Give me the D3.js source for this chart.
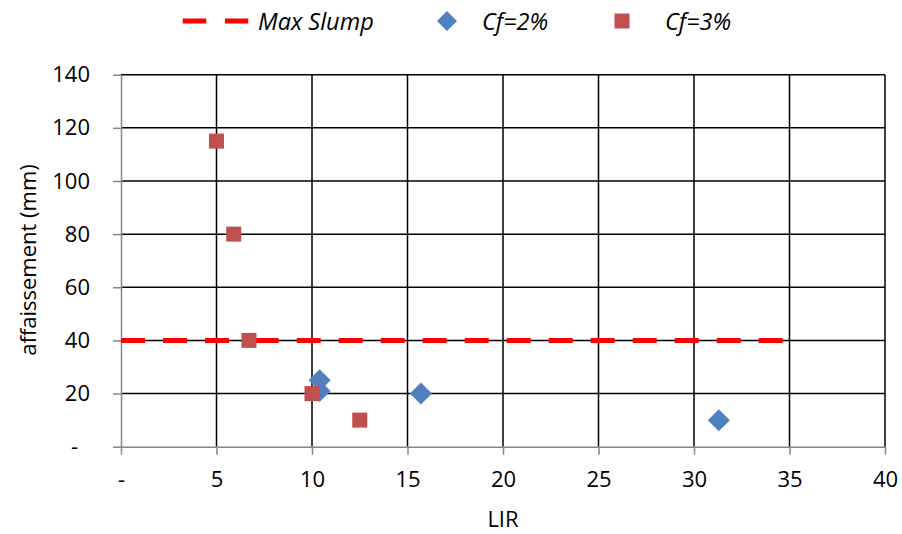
<!DOCTYPE html>
<html>
<head>
<meta charset="utf-8">
<script src="https://cdn.jsdelivr.net/npm/d3@7"></script>
<style>
  html, body { margin: 0; padding: 0; background: #fff; }
  svg { display: block; }
  text { font-family: "Open Sans", "Lato", sans-serif; fill: #000; }
</style>
</head>
<body>
<svg id="chart" width="902" height="534"></svg>
<script>
// ---- data ----
const maxSlumpX = [0, 7, 35];
const maxSlumpY = [40, 40, 40];
const cf2X = [10.4, 10.4, 15.7, 31.3];
const cf2Y = [25, 21, 20, 10];
const cf3X = [5.0, 5.9, 6.7, 10.0, 12.5];
const cf3Y = [115, 80, 40, 20, 10];
const xTicks = [0, 5, 10, 15, 20, 25, 30, 35, 40];
const yTicks = [0, 20, 40, 60, 80, 100, 120, 140];
const seriesNames = ["Max Slump", "Cf=2%", "Cf=3%"];
const xTitle = "LIR";
const yTitle = "affaissement (mm)";

const svg = d3.select("#chart");
const x = d3.scaleLinear().domain([0, 40]).range([121, 885]);
const y = d3.scaleLinear().domain([0, 140]).range([446.7, 74.7]);

const fmt = v => v === 0 ? "-" : d3.format(",")(v);
const gridColor = "#000";
const axisColor = "#868686";

// gridlines
const grid = svg.append("g");
grid.selectAll("line.h").data(yTicks.filter(d => d > 0)).join("line")
  .attr("x1", x(0)).attr("x2", x(40))
  .attr("y1", d => y(d)).attr("y2", d => y(d))
  .attr("stroke", gridColor).attr("stroke-width", 1.5);
grid.selectAll("line.v").data(xTicks.filter(d => d > 0)).join("line")
  .attr("y1", y(0)).attr("y2", y(140))
  .attr("x1", d => x(d)).attr("x2", d => x(d))
  .attr("stroke", gridColor).attr("stroke-width", 1.5);

// axes
const xAxis = svg.append("g").attr("transform", `translate(0,${y(0)})`)
  .call(d3.axisBottom(x).tickValues(xTicks).tickFormat(fmt).tickSize(8).tickPadding(17).tickSizeOuter(0));
const yAxis = svg.append("g").attr("transform", `translate(${x(0)},0)`)
  .call(d3.axisLeft(y).tickValues(yTicks).tickFormat(fmt).tickSize(8).tickPadding(23).tickSizeOuter(0));
[xAxis, yAxis].forEach(g => {
  g.select(".domain").attr("stroke", axisColor).attr("stroke-width", 1.5);
  g.selectAll(".tick line").attr("stroke", axisColor).attr("stroke-width", 1.5);
  g.selectAll(".tick text").style("font-size", "22px").attr("fill", "#000");
});
yAxis.selectAll(".tick text").filter(d => d === 0).attr("dx", -12);

// Max slump dashed line (pattern restarts at each vertex)
const lineGen = d3.line().x(d => x(d[0])).y(d => y(d[1]));
const pts = maxSlumpX.map((v, i) => [v, maxSlumpY[i]]);
for (let i = 0; i < pts.length - 1; i++) {
  svg.append("path").attr("d", lineGen([pts[i], pts[i + 1]]))
    .attr("fill", "none").attr("stroke", "#FF0000")
    .attr("stroke-width", 5).attr("stroke-dasharray", "24,18");
}

// markers
const diamond = (cx, cy, r) => `M${cx},${cy - r}L${cx + r},${cy}L${cx},${cy + r}L${cx - r},${cy}Z`;
svg.append("g").selectAll("path").data(cf2X.map((v, i) => [v, cf2Y[i]])).join("path")
  .attr("d", d => diamond(x(d[0]), y(d[1]), 11))
  .attr("fill", "#4F81BD");
svg.append("g").selectAll("rect").data(cf3X.map((v, i) => [v, cf3Y[i]])).join("rect")
  .attr("x", d => x(d[0]) - 7.5).attr("y", d => y(d[1]) - 7.5)
  .attr("width", 15).attr("height", 15)
  .attr("fill", "#C0504D");

// axis titles
svg.append("text").attr("x", 503).attr("y", 527).attr("text-anchor", "middle")
  .style("font-size", "22px").text(xTitle);
svg.append("text").attr("transform", "translate(27,260) rotate(-90)")
  .attr("text-anchor", "middle").attr("dominant-baseline", "central")
  .style("font-size", "22px").text(yTitle);

// legend
const leg = svg.append("g");
const ly = 21;
leg.append("line").attr("x1", 182.7).attr("x2", 248.3).attr("y1", ly).attr("y2", ly)
  .attr("stroke", "#FF0000").attr("stroke-width", 5).attr("stroke-dasharray", "23.5,18.8");
leg.append("text").attr("x", 258).attr("y", ly).attr("dominant-baseline", "central")
  .style("font-size", "23.5px").style("font-style", "italic").text(seriesNames[0]);
leg.append("path").attr("d", diamond(447, ly, 10)).attr("fill", "#4F81BD");
leg.append("text").attr("x", 482).attr("y", ly).attr("dominant-baseline", "central")
  .style("font-size", "23.5px").style("font-style", "italic").text(seriesNames[1]);
leg.append("rect").attr("x", 622 - 7.5).attr("y", ly - 7.5).attr("width", 15).attr("height", 15)
  .attr("fill", "#C0504D");
leg.append("text").attr("x", 665).attr("y", ly).attr("dominant-baseline", "central")
  .style("font-size", "23.5px").style("font-style", "italic").text(seriesNames[2]);
</script>
</body>
</html>
